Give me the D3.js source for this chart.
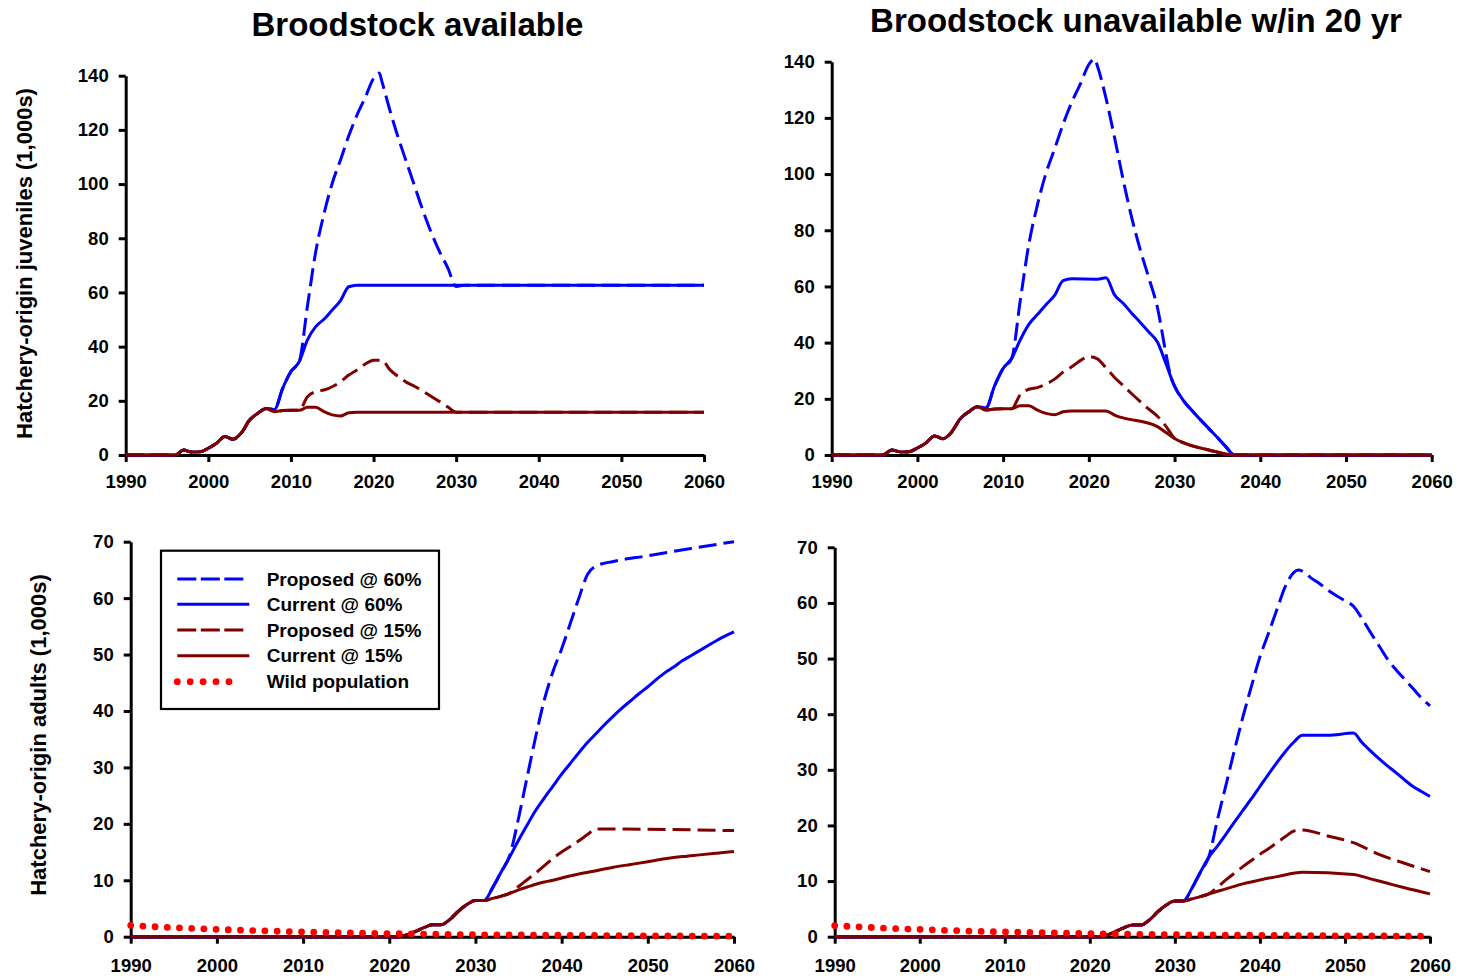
<!DOCTYPE html>
<html>
<head>
<meta charset="utf-8">
<script src="https://cdn.jsdelivr.net/npm/d3@7"></script>
<style>
  body { margin: 0; background: #fff; }
  svg { display: block; }
  text { font-family: "Liberation Sans", Arial, Helvetica, sans-serif; font-weight: bold; fill: #000; }
</style>
</head>
<body>
<svg id="chart" width="1459" height="979"></svg>
<script>
// ---------- axis ticks ----------
const yearTicks = [1990, 2000, 2010, 2020, 2030, 2040, 2050, 2060];
const juvTicks = [0, 20, 40, 60, 80, 100, 120, 140];
const adultTicks = [0, 10, 20, 30, 40, 50, 60, 70];

const panelTitles = ["Broodstock available", "Broodstock unavailable w/in 20 yr"];
const yTitles = ["Hatchery-origin juveniles (1,000s)", "Hatchery-origin adults (1,000s)"];
const seriesLabels = ["Proposed @ 60%", "Current @ 60%", "Proposed @ 15%", "Current @ 15%", "Wild population"];

// ---------- juveniles (1,000s): [year, value] ----------
const juvShared = [[1990,0],[1996,0],[1997,1.8],[1998,1.1],[1999,1.2],[2000,2.5],[2001,4.3],[2002,6.8],
  [2003,5.8],[2004,8.2],[2005,12.9],[2006,15.4],[2007,17.2]];

// broodstock available
const juvAvailProp60 = [[2008,16.8],[2009,24.6],[2010,30.8],[2011,34.4],[2012,55],[2013,75],[2014,89],
  [2015,100.3],[2016,108.9],[2017,117.8],[2018,125.5],[2019,132],[2020,139],[2020.7,141],[2021,138],
  [2022,127],[2023,117],[2024,108],[2025,99],[2026,90],[2027,82],[2028,75],[2029,69],[2030,62.2],
  [2031,62.7],[2060,62.7]];
const juvAvailCur60 = [[2008,16.8],[2009,24.6],[2010,30.8],[2011,34.4],[2012,42.5],[2013,47.4],[2014,50.1],
  [2015,53.5],[2016,57.0],[2017,62.1],[2018,62.7],[2060,62.7]];
const juvAvailProp15 = [[2008,16.0],[2009,16.4],[2010,16.5],[2011,16.5],[2012,21.5],[2013,23.4],[2014,24.0],
  [2015,25.2],[2016,27.0],[2017,29.5],[2018,31.4],[2019,33.6],[2020,35.0],[2021,35.0],[2022,31.4],
  [2023,28.9],[2024,26.8],[2025,25.3],[2026,23.5],[2027,21.6],[2028,19.7],[2029,17.7],[2030,15.8],[2060,15.8]];
const juvAvailCur15 = [[2008,16.0],[2009,16.4],[2010,16.5],[2011,16.5],[2012,17.6],[2013,17.6],[2014,16.0],
  [2015,14.8],[2016,14.4],[2017,15.6],[2018,15.8],[2060,15.8]];

// broodstock lost within 20 years
const juvLossProp60 = [[2008,16.8],[2009,24.6],[2010,30.8],[2011,34.4],[2012,55],[2013,75],[2014,89],
  [2015,100.3],[2016,108.9],[2017,117.8],[2018,125.5],[2019,132],[2020,139],[2020.7,141],[2021,138.5],
  [2022,127],[2023,113],[2024,98],[2025,84.5],[2026,73],[2027,63],[2028,52.5],[2029,36],[2029.5,28.6],
  [2030,24.5],[2031,19.5],[2032,15.9],[2033,12.6],[2034,9.4],[2035,6.2],[2036,2.9],[2037,0],[2060,0]];
const juvLossCur60 = [[2008,16.8],[2009,24.6],[2010,30.8],[2011,34.4],[2012,41],[2013,46.5],[2014,50],
  [2015,53.5],[2016,56.8],[2017,62.1],[2018,62.7],[2021,62.6],[2022,63.1],[2023,57],[2024,54],[2025,50.5],
  [2026,47.2],[2027,43.8],[2028,40.2],[2029,32.5],[2030,24.5],[2031,19.5],[2032,15.9],[2033,12.6],
  [2034,9.4],[2035,6.2],[2036,2.9],[2037,0],[2060,0]];
const juvLossProp15 = [[2008,16.0],[2009,16.4],[2010,16.5],[2011,16.5],[2012,21.5],[2013,23.4],[2014,24.0],
  [2015,25.2],[2016,27.0],[2017,29.5],[2018,31.4],[2019,33.6],[2020,35.0],[2021,34.2],[2022,31.0],
  [2023,27.6],[2024,24.7],[2025,21.8],[2026,19.0],[2027,16.3],[2028,13.8],[2029,10.2],[2030,5.9],
  [2031,4.4],[2034,1.8],[2037,0],[2060,0]];
const juvLossCur15 = [[2008,16.0],[2009,16.4],[2010,16.5],[2011,16.5],[2012,17.5],[2013,17.5],[2014,16.0],
  [2015,14.8],[2016,14.3],[2017,15.4],[2018,15.7],[2022,15.7],[2023,14.2],[2028,10.1],[2029,8.0],
  [2030,5.9],[2031,4.4],[2034,1.8],[2037,0],[2060,0]];

// ---------- adults (1,000s): [year, value] ----------
const adultShared = [[1990,0],[2021,0],[2022,0.3],[2023,0.9],[2024,1.6],[2025,2.1],[2026,2.1],[2027,3.0],
  [2028,4.5],[2029,5.7],[2030,6.4],[2031,6.4]];

// broodstock available
const adultAvailProp60 = [[2032,8.7],[2033,11.5],[2034,14.5],[2035,21],[2036,28.3],[2037,35.5],[2038,42],
  [2039,47],[2040,51],[2041,55.5],[2042,60],[2043,64.2],[2044,65.7],[2046,66.5],[2050,67.5],[2055,68.8],
  [2060,70.0]];
const adultAvailCur60 = [[2032,8.7],[2033,11.5],[2034,14.2],[2035,17.1],[2036,19.8],[2037,22.4],[2038,24.6],
  [2039,26.7],[2040,28.8],[2041,30.7],[2042,32.6],[2043,34.4],[2044,36.0],[2045,37.6],[2046,39.1],
  [2047,40.5],[2048,41.8],[2049,43.1],[2050,44.3],[2051,45.6],[2052,46.8],[2053,47.8],[2054,48.9],
  [2055,49.8],[2056,50.7],[2057,51.6],[2058,52.5],[2059,53.3],[2060,54.0]];
const adultAvailProp15 = [[2032,6.8],[2033,7.2],[2034,7.7],[2035,8.9],[2036,10.1],[2037,11.3],[2038,12.6],
  [2039,13.9],[2040,15.0],[2041,16.0],[2042,17.0],[2043,18.1],[2044,19.1],[2060,18.8]];
const adultAvailCur15 = [[2032,6.8],[2033,7.2],[2034,7.7],[2035,8.3],[2036,8.8],[2037,9.3],[2038,9.7],
  [2039,10.0],[2040,10.4],[2042,11.1],[2044,11.7],[2046,12.3],[2048,12.8],[2050,13.3],[2052,13.8],
  [2054,14.2],[2056,14.5],[2058,14.8],[2060,15.1]];

// broodstock lost within 20 years
const adultLossProp60 = [[2032,8.7],[2033,11.6],[2034,14.4],[2035,21],[2036,27.2],[2037,33.5],[2038,39.5],
  [2039,45],[2040,50.3],[2041,54.5],[2042,58.8],[2043,63],[2044,65.5],[2044.5,65.9],[2045,65.7],
  [2046,64.5],[2047,63.5],[2048,62.3],[2049,61.3],[2050,60.4],[2051,59.4],[2052,57.2],[2053,54.7],
  [2054,52.3],[2055,49.9],[2056,48.0],[2057,46.3],[2058,44.6],[2059,42.9],[2060,41.5]];
const adultLossCur60 = [[2032,8.7],[2033,11.6],[2034,14.3],[2035,16.3],[2036,18.4],[2037,20.6],[2038,22.7],
  [2039,24.8],[2040,27.0],[2041,29.2],[2042,31.3],[2043,33.3],[2044,35.0],[2045,36.2],[2048,36.2],
  [2051,36.6],[2052,34.9],[2053,33.4],[2054,32.0],[2055,30.7],[2056,29.5],[2057,28.2],[2058,27.0],
  [2059,26.1],[2060,25.2]];
const adultLossProp15 = [[2032,6.8],[2033,7.2],[2034,7.7],[2035,8.9],[2036,10.2],[2037,11.4],[2038,12.6],
  [2039,13.7],[2040,14.8],[2041,15.8],[2042,16.9],[2043,18.0],[2044,19.0],[2045,19.2],[2048,18.1],
  [2051,16.9],[2054,14.8],[2057,13.2],[2060,11.7]];
const adultLossCur15 = [[2032,6.8],[2033,7.2],[2034,7.7],[2036,8.6],[2038,9.5],[2040,10.2],[2042,10.8],
  [2045,11.6],[2051,11.2],[2053,10.4],[2055,9.6],[2057,8.8],[2060,7.7]];

// wild adults (1,000s)
const wildPop = [[1990,2.0],[1995,1.6],[2000,1.3],[2005,1.05],[2010,0.85],[2015,0.7],[2020,0.55],
  [2025,0.45],[2030,0.35],[2035,0.3],[2040,0.25],[2045,0.2],[2050,0.15],[2055,0.12],[2060,0.1]];

// ---------- drawing ----------
const seriesStyles = [
  { color: "#0000ff", dash: "18,7", width: 3 },
  { color: "#0000ff", dash: null, width: 3 },
  { color: "#800000", dash: "18,7", width: 3 },
  { color: "#800000", dash: null, width: 3 },
  { color: "#ff0000", dash: "0.01,12.2", width: 6.8, cap: "round" }
];

const svg = d3.select("#chart");
svg.append("rect").attr("width", 1459).attr("height", 979).attr("fill", "#fff");

const panels = [
  { x0: 125.7, x1: 704, y0: 455, y1: 75.7, yMax: 140, yTicks: juvTicks, xPad: 12.5,
    series: [juvShared.concat(juvAvailProp60), juvShared.concat(juvAvailCur60),
             juvShared.concat(juvAvailProp15), juvShared.concat(juvAvailCur15)] },
  { x0: 831.7, x1: 1431.7, y0: 455, y1: 61.7, yMax: 140, yTicks: juvTicks, xPad: 12.5,
    series: [juvShared.concat(juvLossProp60), juvShared.concat(juvLossCur60),
             juvShared.concat(juvLossProp15), juvShared.concat(juvLossCur15)] },
  { x0: 130.7, x1: 734, y0: 936.7, y1: 541.7, yMax: 70, yTicks: adultTicks, xPad: 15,
    series: [adultShared.concat(adultAvailProp60), adultShared.concat(adultAvailCur60),
             adultShared.concat(adultAvailProp15), adultShared.concat(adultAvailCur15), wildPop] },
  { x0: 834.7, x1: 1430, y0: 936.7, y1: 547.3, yMax: 70, yTicks: adultTicks, xPad: 15,
    series: [adultShared.concat(adultLossProp60), adultShared.concat(adultLossCur60),
             adultShared.concat(adultLossProp15), adultShared.concat(adultLossCur15), wildPop] }
];

function styleAxis(g) {
  g.selectAll("path.domain").attr("stroke", "#000").attr("stroke-width", 3);
  g.selectAll(".tick line").attr("stroke", "#000").attr("stroke-width", 3);
  g.selectAll(".tick text")
    .attr("font-size", "18.5px")
    .attr("font-family", "'Liberation Sans', Arial, sans-serif")
    .attr("font-weight", "bold")
    .attr("fill", "#000");
  g.attr("font-family", null).attr("font-size", null);
}

panels.forEach(p => {
  const x = d3.scaleLinear().domain([1990, 2060]).range([p.x0, p.x1]);
  const y = d3.scaleLinear().domain([0, p.yMax]).range([p.y0, p.y1]);
  const g = svg.append("g");

  g.append("g")
    .attr("transform", `translate(0,${p.y0})`)
    .call(d3.axisBottom(x).tickValues(yearTicks).tickSize(7).tickSizeOuter(0)
      .tickPadding(p.xPad).tickFormat(d3.format("d")))
    .call(styleAxis);

  g.append("g")
    .attr("transform", `translate(${p.x0},0)`)
    .call(d3.axisLeft(y).tickValues(p.yTicks).tickSize(7).tickSizeOuter(0).tickPadding(10))
    .call(styleAxis);

  const line = d3.line()
    .x(d => x(d[0]))
    .y(d => y(d[1]))
    .curve(d3.curveMonotoneX);

  p.series.forEach((data, i) => {
    const st = seriesStyles[i];
    g.append("path")
      .datum(data)
      .attr("d", line)
      .attr("fill", "none")
      .attr("stroke", st.color)
      .attr("stroke-width", st.width)
      .attr("stroke-linejoin", "round")
      .attr("stroke-linecap", st.cap || "butt")
      .attr("stroke-dasharray", st.dash);
  });
});

// panel titles
svg.append("text").attr("x", 417.5).attr("y", 35.6).attr("text-anchor", "middle")
  .attr("font-size", "33px").text(panelTitles[0]);
svg.append("text").attr("x", 1136).attr("y", 31.6).attr("text-anchor", "middle")
  .attr("font-size", "33px").text(panelTitles[1]);

// y-axis titles
svg.append("text").attr("transform", "translate(24,263.5) rotate(-90)")
  .attr("text-anchor", "middle").attr("dy", "0.35em").attr("font-size", "22px").text(yTitles[0]);
svg.append("text").attr("transform", "translate(38.5,735) rotate(-90)")
  .attr("text-anchor", "middle").attr("dy", "0.35em").attr("font-size", "22px").text(yTitles[1]);

// legend
const legend = svg.append("g");
legend.append("rect")
  .attr("x", 161).attr("y", 550.7).attr("width", 278).attr("height", 158.3)
  .attr("fill", "#fff").attr("stroke", "#000").attr("stroke-width", 2.2);
const legendRows = [579, 604.3, 630, 655.7, 681.7];
seriesLabels.forEach((label, i) => {
  const st = seriesStyles[i];
  const ly = legendRows[i];
  let x2 = 249.3, dash = null;
  if (i === 0 || i === 2) { x2 = 243.3; dash = "19,4.5"; }
  if (i === 4) { x2 = 241.8; dash = "0.01,12.9"; }
  legend.append("line")
    .attr("x1", 177.3).attr("x2", x2).attr("y1", ly).attr("y2", ly)
    .attr("stroke", st.color).attr("stroke-width", st.width)
    .attr("stroke-linecap", st.cap || "butt")
    .attr("stroke-dasharray", dash);
  legend.append("text")
    .attr("x", 266.7).attr("y", ly).attr("dy", "0.35em")
    .attr("font-size", "19px").text(label);
});
</script>
</body>
</html>
